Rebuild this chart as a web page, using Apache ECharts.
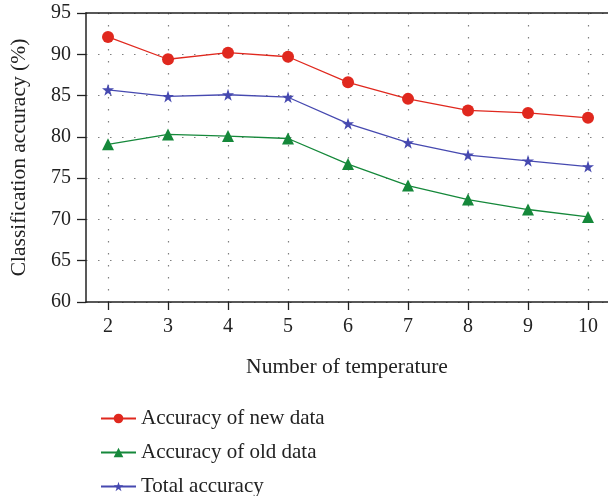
<!DOCTYPE html>
<html>
<head>
<meta charset="utf-8">
<script src="https://cdn.jsdelivr.net/npm/echarts@6/dist/echarts.min.js"></script>
<style>
  html, body { margin: 0; padding: 0; background: #fff; }
  #chart { width: 608px; height: 496px; }
</style>
</head>
<body>
<div id="chart"></div>
<script>
// Number of temperatures on the x axis
const temperatures = [2, 3, 4, 5, 6, 7, 8, 9, 10];
// Classification accuracy (%) per temperature count
const newDataAcc = [92.1, 89.4, 90.2, 89.7, 86.6, 84.6, 83.2, 82.9, 82.3];
const oldDataAcc = [79.1, 80.3, 80.1, 79.8, 76.7, 74.1, 72.4, 71.2, 70.3];
const totalAcc   = [85.7, 84.9, 85.1, 84.8, 81.6, 79.3, 77.8, 77.1, 76.4];
const yTicks = [60, 65, 70, 75, 80, 85, 90, 95];

const FONT = '"Liberation Serif", "DejaVu Serif", serif';
const pairs = arr => temperatures.map((t, i) => [t, arr[i]]);
const gridDots = { color: '#808080', width: 1.2, type: [1.5, 10.5] };

const chart = echarts.init(document.getElementById('chart'), null, { renderer: 'canvas' });
chart.setOption({
  animation: false,
  backgroundColor: '#fff',
  textStyle: { fontFamily: FONT, color: '#222' },
  grid: { left: 86, right: 0, top: 13, bottom: 194, containLabel: false, outerBoundsMode: 'none' },
  xAxis: [{
    type: 'value',
    min: 1.633,
    max: 10.333,
    name: 'Number of temperature',
    nameLocation: 'middle',
    nameGap: 54,
    nameTextStyle: { fontFamily: FONT, fontSize: 21.5, color: '#222' },
    axisLine: { lineStyle: { color: '#222', width: 1.5 } },
    axisTick: { show: true, length: 8, lineStyle: { color: '#222', width: 1.3 }, customValues: temperatures },
    axisLabel: { fontFamily: FONT, fontSize: 20, color: '#222', margin: 15, customValues: temperatures },
    splitLine: { show: true, lineStyle: gridDots }
  }, {
    type: 'value',
    position: 'top',
    min: 1.633,
    max: 10.333,
    axisLine: { show: true, onZero: false, lineStyle: { color: '#222', width: 1.5 } },
    axisTick: { show: false },
    axisLabel: { show: false },
    splitLine: { show: false }
  }],
  yAxis: {
    type: 'value',
    min: yTicks[0],
    max: yTicks[yTicks.length - 1],
    interval: 5,
    name: 'Classification accuracy (%)',
    nameLocation: 'middle',
    nameGap: 56,
    nameTextStyle: { fontFamily: FONT, fontSize: 21.5, color: '#222' },
    axisLine: { show: true, lineStyle: { color: '#222', width: 1.5 } },
    axisTick: { show: true, length: 9, lineStyle: { color: '#222', width: 1.3 } },
    axisLabel: { fontFamily: FONT, fontSize: 20, color: '#222', margin: 15 },
    splitLine: { show: true, lineStyle: gridDots }
  },
  legend: {
    orient: 'vertical',
    left: 95,
    top: 403,
    height: 100,
    itemWidth: 35,
    itemHeight: 12,
    itemGap: 13,
    textStyle: { fontFamily: FONT, fontSize: 21, color: '#222' },
    data: ['Accuracy of new data', 'Accuracy of old data', 'Total accuracy']
  },
  series: [{
    name: 'Accuracy of new data',
    type: 'line',
    data: pairs(newDataAcc),
    color: '#e0281e',
    symbol: 'circle',
    symbolSize: 12,
    lineStyle: { width: 1.3 },
    itemStyle: { color: '#e0281e' }
  }, {
    name: 'Accuracy of old data',
    type: 'line',
    data: pairs(oldDataAcc),
    color: '#15883a',
    symbol: 'triangle',
    symbolSize: 12,
    lineStyle: { width: 1.3 },
    itemStyle: { color: '#15883a' }
  }, {
    name: 'Total accuracy',
    type: 'line',
    data: pairs(totalAcc),
    color: '#4649b0',
    symbol: 'path://M50,0 L61.2,34.5 L97.6,34.5 L68.2,55.9 L79.4,90.5 L50,69.1 L20.6,90.5 L31.8,55.9 L2.4,34.5 L38.8,34.5 Z',
    symbolSize: 12,
    lineStyle: { width: 1.3 },
    itemStyle: { color: '#4649b0' }
  }]
});
</script>
</body>
</html>
